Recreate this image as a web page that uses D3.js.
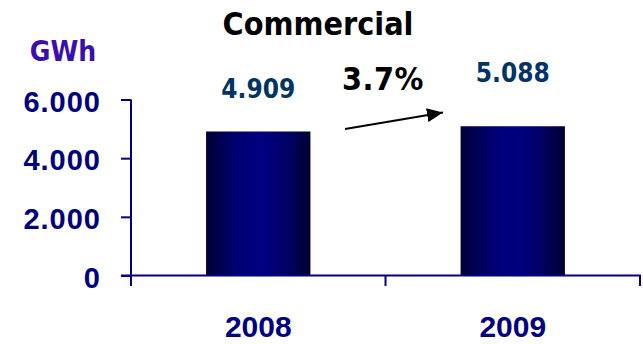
<!DOCTYPE html>
<html>
<head>
<meta charset="utf-8">
<script src="https://cdn.jsdelivr.net/npm/d3@7"></script>
<style>
  html, body { margin: 0; padding: 0; background: #fff; }
  svg { display: block; }
  .tahoma { font-family: "DejaVu Sans Condensed", "DejaVu Sans", sans-serif; font-stretch: condensed; font-weight: bold; }
  .arial { font-family: "Liberation Sans", Arial, sans-serif; font-weight: bold; }
</style>
</head>
<body>
<svg id="chart" width="643" height="344"></svg>
<script>
// Commercial electricity consumption, GWh
const categories = ["2008", "2009"];
const consumption = [4909, 5088];
const yTicks = [0, 2000, 4000, 6000];
const growthLabel = "3.7%";
const chartTitle = "Commercial";
const unitLabel = "GWh";

const axisColor = "#000080";
const valueColor = "#003366";

const locale = d3.formatLocale({ decimal: ",", thousands: ".", grouping: [3], currency: ["", ""] });
const fmt = locale.format(",d");

const svg = d3.select("#chart");

const x = d3.scaleBand().domain(categories).range([131, 640]).paddingInner(0).paddingOuter(0);
const y = d3.scaleLinear().domain([0, 6000]).range([275.5, 99.5]);
const barW = x.bandwidth() * 0.41;

// horizontal shading of the bars
const defs = svg.append("defs");
const grad = defs.append("linearGradient").attr("id", "barGrad")
  .attr("x1", "0%").attr("x2", "100%").attr("y1", "0%").attr("y2", "0%");
grad.append("stop").attr("offset", "0%").attr("stop-color", "#000036");
grad.append("stop").attr("offset", "30%").attr("stop-color", "#000072");
grad.append("stop").attr("offset", "52%").attr("stop-color", "#000084");
grad.append("stop").attr("offset", "75%").attr("stop-color", "#000068");
grad.append("stop").attr("offset", "100%").attr("stop-color", "#000034");

// bars
svg.append("g").selectAll("rect")
  .data(categories)
  .join("rect")
  .attr("x", (d) => x(d) + (x.bandwidth() - barW) / 2)
  .attr("y", (d, i) => y(consumption[i]))
  .attr("width", barW)
  .attr("height", (d, i) => y(0) - y(consumption[i]))
  .attr("fill", "url(#barGrad)");

// y axis
const yAxis = svg.append("g")
  .attr("transform", "translate(131,0)")
  .call(d3.axisLeft(y).tickValues(yTicks).tickFormat(fmt).tickSize(10).tickPadding(20));
yAxis.select(".domain").remove();
yAxis.selectAll(".tick line").attr("stroke", axisColor).attr("stroke-width", 2);
yAxis.selectAll(".tick text")
  .attr("class", "arial")
  .attr("fill", axisColor)
  .attr("font-size", 29)
  .attr("letter-spacing", 1)
  .attr("dy", "0.4em");
svg.append("line")
  .attr("x1", 131).attr("x2", 131)
  .attr("y1", y(6000)).attr("y2", y(0) + 10.5)
  .attr("stroke", axisColor).attr("stroke-width", 2);

// x axis with ticks at category boundaries
svg.append("line")
  .attr("x1", 121).attr("x2", 641)
  .attr("y1", y(0)).attr("y2", y(0))
  .attr("stroke", axisColor).attr("stroke-width", 2);
const bounds = categories.map((d) => x(d)).concat([x(categories[categories.length - 1]) + x.bandwidth()]);
svg.append("g").selectAll("line")
  .data(bounds.slice(1))
  .join("line")
  .attr("x1", (d) => d).attr("x2", (d) => d)
  .attr("y1", y(0)).attr("y2", y(0) + 10.5)
  .attr("stroke", axisColor).attr("stroke-width", 2);

const xAxis = svg.append("g")
  .attr("transform", `translate(0,${y(0)})`)
  .call(d3.axisBottom(x).tickSize(0).tickPadding(0));
xAxis.select(".domain").remove();
xAxis.selectAll(".tick text")
  .attr("class", "arial")
  .attr("fill", axisColor)
  .attr("font-size", 30)
  .attr("dy", null)
  .attr("y", 61);

// value labels
const labelY = [97.5, 82];
svg.append("g").selectAll("text")
  .data(categories)
  .join("text")
  .attr("class", "tahoma")
  .attr("x", (d) => x(d) + x.bandwidth() / 2)
  .attr("y", (d, i) => labelY[i])
  .attr("text-anchor", "middle")
  .attr("font-size", 26)
  .attr("fill", valueColor)
  .text((d, i) => fmt(consumption[i]));

// title and unit
svg.append("text")
  .attr("class", "tahoma")
  .attr("x", 318).attr("y", 35)
  .attr("text-anchor", "middle")
  .attr("font-size", 32)
  .attr("fill", "#000")
  .text(chartTitle);

svg.append("text")
  .attr("class", "tahoma")
  .attr("x", 63).attr("y", 61)
  .attr("text-anchor", "middle")
  .attr("font-size", 28)
  .attr("fill", "#3a0fb0")
  .text(unitLabel);

// growth annotation
svg.append("text")
  .attr("class", "tahoma")
  .attr("x", 383).attr("y", 90)
  .attr("text-anchor", "middle")
  .attr("font-size", 32)
  .attr("letter-spacing", 0.5)
  .attr("fill", "#000")
  .text(growthLabel);

defs.append("marker")
  .attr("id", "arrowHead")
  .attr("viewBox", "0 0 16 14")
  .attr("refX", 16).attr("refY", 7)
  .attr("markerWidth", 16).attr("markerHeight", 14)
  .attr("markerUnits", "userSpaceOnUse")
  .attr("orient", "auto")
  .append("path")
  .attr("d", "M0,0 L16,7 L0,14 Z")
  .attr("fill", "#000");

svg.append("line")
  .attr("x1", 345).attr("y1", 129)
  .attr("x2", 443).attr("y2", 112.5)
  .attr("stroke", "#000").attr("stroke-width", 2.2)
  .attr("marker-end", "url(#arrowHead)");
</script>
</body>
</html>
